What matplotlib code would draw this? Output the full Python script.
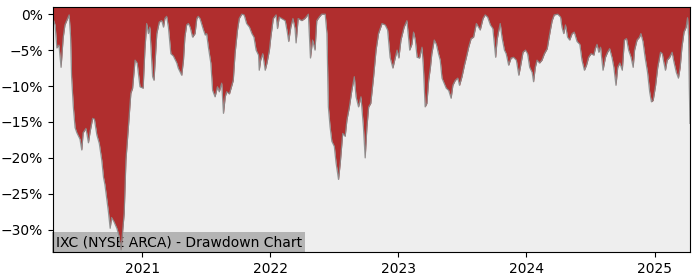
import matplotlib
matplotlib.use("Agg")
import matplotlib.pyplot as plt
import matplotlib.dates as mdates
from matplotlib.ticker import PercentFormatter
import pandas as pd

title = "IXC (NYSE ARCA) - Drawdown Chart"

dates = [
    "2020-04-22", "2020-04-28", "2020-05-03", "2020-05-09", "2020-05-15", "2020-05-21",
    "2020-05-26", "2020-06-01", "2020-06-07", "2020-06-11", "2020-06-14", "2020-06-19",
    "2020-06-24", "2020-06-29", "2020-07-08", "2020-07-13", "2020-07-17", "2020-07-25",
    "2020-08-01", "2020-08-06", "2020-08-13", "2020-08-18", "2020-08-25", "2020-09-01",
    "2020-09-08", "2020-09-13", "2020-09-17", "2020-09-22", "2020-09-27", "2020-10-02",
    "2020-10-06", "2020-10-13", "2020-10-21", "2020-10-27", "2020-11-02", "2020-11-06",
    "2020-11-11", "2020-11-16", "2020-11-23", "2020-11-30", "2020-12-05", "2020-12-12",
    "2020-12-18", "2020-12-26",
    "2021-01-04", "2021-01-09", "2021-01-14", "2021-01-19", "2021-01-23", "2021-01-31",
    "2021-02-04", "2021-02-12", "2021-02-19", "2021-02-26", "2021-03-03", "2021-03-07",
    "2021-03-12", "2021-03-17", "2021-03-24", "2021-03-31", "2021-04-10", "2021-04-14",
    "2021-04-24", "2021-04-29", "2021-05-03", "2021-05-08", "2021-05-13", "2021-05-18",
    "2021-05-25", "2021-06-01", "2021-06-06", "2021-06-10", "2021-06-15", "2021-06-25",
    "2021-06-30", "2021-07-04", "2021-07-09", "2021-07-16", "2021-07-21", "2021-07-28",
    "2021-08-04", "2021-08-09", "2021-08-16", "2021-08-21", "2021-08-26", "2021-08-30",
    "2021-09-07", "2021-09-14", "2021-09-18", "2021-09-23", "2021-09-30", "2021-10-05",
    "2021-10-12", "2021-10-19", "2021-10-26", "2021-11-03", "2021-11-10", "2021-11-16",
    "2021-11-22", "2021-11-29", "2021-12-01", "2021-12-05", "2021-12-11", "2021-12-18",
    "2021-12-23", "2021-12-30",
    "2022-01-03", "2022-01-10", "2022-01-18", "2022-01-22", "2022-01-27", "2022-02-03",
    "2022-02-13", "2022-02-19", "2022-02-23", "2022-03-01", "2022-03-07", "2022-03-13",
    "2022-03-16", "2022-03-22", "2022-04-01", "2022-04-10", "2022-04-20", "2022-04-26",
    "2022-05-02", "2022-05-09", "2022-05-14", "2022-05-21", "2022-05-28", "2022-06-07",
    "2022-06-12", "2022-06-16", "2022-06-21", "2022-06-26", "2022-07-03", "2022-07-08",
    "2022-07-15", "2022-07-20", "2022-07-27", "2022-08-03", "2022-08-08", "2022-08-15",
    "2022-08-22", "2022-08-29", "2022-09-03", "2022-09-10", "2022-09-17", "2022-09-24",
    "2022-09-29", "2022-10-04", "2022-10-09", "2022-10-15", "2022-10-23", "2022-10-30",
    "2022-11-06", "2022-11-16", "2022-11-25", "2022-12-02", "2022-12-09", "2022-12-17",
    "2022-12-24", "2022-12-29",
    "2023-01-03", "2023-01-09", "2023-01-18", "2023-01-26", "2023-02-03", "2023-02-09",
    "2023-02-14", "2023-02-19", "2023-02-24", "2023-03-03", "2023-03-10", "2023-03-14",
    "2023-03-19", "2023-03-24", "2023-03-29", "2023-04-03", "2023-04-07", "2023-04-14",
    "2023-04-20", "2023-04-26", "2023-05-01", "2023-05-06", "2023-05-12", "2023-05-18",
    "2023-05-25", "2023-06-01", "2023-06-06", "2023-06-13", "2023-06-20", "2023-06-25",
    "2023-07-02", "2023-07-09", "2023-07-14", "2023-07-21", "2023-07-28", "2023-08-04",
    "2023-08-12", "2023-08-18", "2023-08-23", "2023-08-31", "2023-09-06", "2023-09-13",
    "2023-09-21", "2023-09-28", "2023-10-06", "2023-10-10", "2023-10-14", "2023-10-19",
    "2023-10-24", "2023-10-31", "2023-11-05", "2023-11-12", "2023-11-19", "2023-11-26",
    "2023-12-04", "2023-12-11", "2023-12-15", "2023-12-23", "2023-12-30",
    "2024-01-05", "2024-01-11", "2024-01-18", "2024-01-22", "2024-01-27", "2024-02-01",
    "2024-02-08", "2024-02-15", "2024-02-22", "2024-03-01", "2024-03-05", "2024-03-10",
    "2024-03-15", "2024-03-21", "2024-03-31", "2024-04-08", "2024-04-12", "2024-04-17",
    "2024-04-22", "2024-04-28", "2024-05-04", "2024-05-11", "2024-05-17", "2024-05-25",
    "2024-06-02", "2024-06-08", "2024-06-15", "2024-06-21", "2024-06-27", "2024-07-04",
    "2024-07-12", "2024-07-16", "2024-07-21", "2024-07-26", "2024-07-31", "2024-08-07",
    "2024-08-14", "2024-08-20", "2024-08-26", "2024-09-02", "2024-09-07", "2024-09-13",
    "2024-09-18", "2024-09-24", "2024-10-01", "2024-10-07", "2024-10-13", "2024-10-19",
    "2024-10-26", "2024-11-01", "2024-11-05", "2024-11-12", "2024-11-19", "2024-11-23",
    "2024-11-29", "2024-12-05", "2024-12-12", "2024-12-18", "2024-12-23", "2024-12-28",
    "2025-01-04", "2025-01-10", "2025-01-18", "2025-01-23", "2025-01-27", "2025-02-01",
    "2025-02-06", "2025-02-13", "2025-02-20", "2025-02-25", "2025-03-04", "2025-03-10",
    "2025-03-15", "2025-03-20", "2025-03-26", "2025-04-01", "2025-04-05", "2025-04-08",
    "2025-04-10", "2025-04-12",
]

drawdown = [
    -0.6, -1.5, -4.7, -4.3, -7.4, -3.3,
    -1.5, -0.8, -0.1, -3.0, -8.7, -12.9,
    -15.8, -16.5, -17.4, -18.9, -16.5, -15.9,
    -17.9, -16.3, -14.5, -14.6, -16.8, -18.0,
    -20.3, -22.7, -23.7, -25.6, -27.5, -29.8,
    -28.3, -28.9, -29.8, -30.8, -32.8, -30.5,
    -27.7, -20.3, -15.7, -11.0, -10.3, -6.4,
    -6.8, -10.1,
    -10.3, -5.0, -1.3, -2.7, -1.8, -8.7,
    -9.2, -2.7, -1.1, -0.9, -1.8, -0.6,
    -0.3, -1.8, -5.5, -5.8, -6.8, -7.5,
    -8.5, -6.4, -3.2, -1.5, -1.3, -1.8,
    -3.2, -2.7, -0.6, -0.3, -0.6, -2.2,
    -2.9, -2.7, -4.6, -6.8, -10.6, -11.5,
    -10.1, -10.8, -9.6, -13.8, -11.5, -10.8,
    -11.1, -9.9, -9.2, -5.5, -2.2, -0.6,
    0.0, -0.1, -1.3, -1.8, -2.7, -3.2,
    -5.0, -5.7, -7.8, -6.4, -5.5, -7.8,
    -6.8, -5.0,
    -3.2, -0.6, -0.1, -2.0, -0.4, -0.6,
    -0.9, -2.5, -3.8, -1.8, -0.6, -2.0,
    -4.0, -0.6, -0.9, -0.6, 0.0, -6.1,
    -3.6, -5.0, -0.9, -0.4, 0.0, 0.0,
    -2.7, -12.9, -15.7, -17.7, -18.4, -20.7,
    -23.0, -20.7, -16.6, -17.0, -14.7, -12.9,
    -10.6, -8.7, -11.5, -12.9, -11.5, -15.7,
    -20.0, -15.7, -12.9, -12.4, -8.7, -5.0,
    -2.7, -1.3, -1.5, -2.2, -6.0, -7.5,
    -6.0, -5.0,
    -6.1, -3.6, -1.8, -0.9, -5.0, -4.2,
    -2.5, -3.6, -6.0, -6.1, -4.6, -7.4,
    -12.9, -12.4, -9.2, -7.4, -5.5, -3.6,
    -4.2, -5.5, -6.4, -8.9, -9.6, -10.3,
    -10.6, -11.7, -9.9, -9.2, -8.9, -9.9,
    -8.7, -7.1, -6.1, -4.6, -3.4, -3.2,
    -1.3, -1.8, -2.2, -0.6, -0.1, -0.4,
    -1.5, -2.0, -6.0, -3.6, -2.5, -1.3,
    -3.2, -5.0, -5.5, -7.1, -6.1, -6.0,
    -6.4, -8.5, -7.5, -5.3, -5.0,
    -5.5, -7.4, -8.1, -9.4, -7.4, -6.4,
    -6.8, -6.4, -5.5, -4.8, -3.6, -2.2,
    -0.9, -0.1, 0.0, -0.4, -1.8, -2.7,
    -1.5, -3.2, -3.6, -2.7, -2.5, -3.8,
    -4.2, -6.4, -7.8, -7.1, -6.0, -5.5,
    -5.7, -4.8, -4.2, -5.3, -4.6, -7.8,
    -6.0, -5.3, -4.8, -6.1, -7.4, -9.9,
    -7.4, -6.8, -7.8, -3.6, -3.4, -5.0,
    -6.0, -7.4, -5.0, -3.6, -3.2, -2.7,
    -3.8, -6.0, -8.1, -10.8, -12.2, -12.0,
    -9.9, -7.4, -5.3, -5.5, -6.6, -7.8,
    -6.4, -6.0, -5.3, -6.6, -8.1, -8.9,
    -7.4, -4.6, -2.5, -1.8, -0.5, -3.0,
    -10.0, -15.2,
]

x = pd.to_datetime(dates)
y_top = 1.0
y_bottom = -33.1

fig = plt.figure(figsize=(7.0, 2.8), dpi=100)
ax = fig.add_axes([0.0757, 0.1, 0.91, 0.875])
ax.set_facecolor("#EEEEEE")
ax.fill_between(x, drawdown, y_top, color="#B02E2E", linewidth=0, zorder=3)
ax.plot(x, drawdown, color="#8A8A8A", linewidth=0.9, alpha=0.9, zorder=4)
ax.set_xlim(x[0], x[-1])
ax.set_ylim(y_bottom, y_top)
ax.yaxis.set_major_formatter(PercentFormatter(decimals=0))
ax.set_yticks([0, -5, -10, -15, -20, -25, -30])
ax.xaxis.set_major_locator(mdates.YearLocator())
ax.xaxis.set_major_formatter(mdates.DateFormatter("%Y"))
ax.tick_params(labelsize=10)
ax.text(0.004, 0.012, title, transform=ax.transAxes, fontsize=10,
        ha="left", va="bottom", zorder=2,
        bbox=dict(facecolor="#B4B4B4", edgecolor="none", pad=2.5))
for s in ax.spines.values():
    s.set_zorder(5)
fig.savefig("out.png", dpi=100)
